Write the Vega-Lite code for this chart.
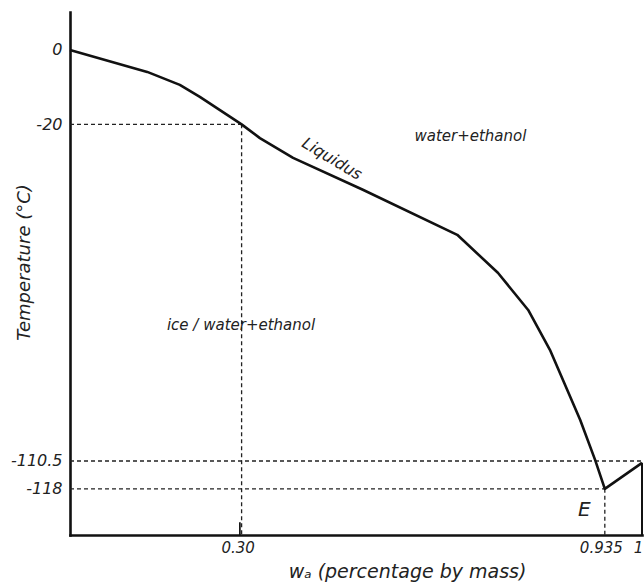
{
  "$schema": "https://vega.github.io/schema/vega-lite/v6.json",
  "autosize": {"type": "none"},
  "padding": {"left": 70, "top": 12, "right": 2, "bottom": 53},
  "width": 572,
  "height": 523,
  "background": "white",
  "config": {
    "view": {"stroke": null},
    "font": "DejaVu Sans",
    "text": {"font": "DejaVu Sans", "fontStyle": "italic", "color": "#222"}
  },
  "datasets": {
    "liquidus": [
      {"order": 1, "w": 0.0, "t": 0.0},
      {"order": 2, "w": 0.135, "t": -5.9},
      {"order": 3, "w": 0.192, "t": -9.4},
      {"order": 4, "w": 0.227, "t": -12.6},
      {"order": 5, "w": 0.30, "t": -20.0},
      {"order": 6, "w": 0.332, "t": -23.7},
      {"order": 7, "w": 0.39, "t": -29.0},
      {"order": 8, "w": 0.512, "t": -37.6},
      {"order": 9, "w": 0.677, "t": -49.7},
      {"order": 10, "w": 0.748, "t": -59.9},
      {"order": 11, "w": 0.801, "t": -69.9},
      {"order": 12, "w": 0.839, "t": -80.6},
      {"order": 13, "w": 0.892, "t": -99.5},
      {"order": 14, "w": 0.918, "t": -110.2},
      {"order": 15, "w": 0.935, "t": -118.0},
      {"order": 16, "w": 1.0, "t": -111.0}
    ],
    "guides": [
      {"w": 0, "w2": 0.30, "t": -20, "t2": -20},
      {"w": 0.30, "w2": 0.30, "t": -20, "t2": -130.4},
      {"w": 0, "w2": 1, "t": -110.5, "t2": -110.5},
      {"w": 0, "w2": 0.935, "t": -118, "t2": -118},
      {"w": 0.935, "w2": 0.935, "t": -118, "t2": -130.4}
    ],
    "regions": [
      {"label": "water+ethanol", "w": 0.70, "t": -23.1},
      {"label": "ice / water+ethanol", "w": 0.299, "t": -73.9}
    ]
  },
  "layer": [
    {
      "data": {"name": "guides"},
      "mark": {"type": "rule", "strokeDash": [4, 3], "strokeWidth": 1.3, "color": "#222"},
      "encoding": {
        "x": {
          "field": "w", "type": "quantitative",
          "scale": {"domain": [0, 1], "nice": false, "zero": false},
          "axis": {
            "values": [0.3, 0.935, 1],
            "labelExpr": "datum.value == 1 ? '1' : datum.value == 0.3 ? '0.30' : '0.935'",
            "ticks": false,
            "grid": false,
            "domainColor": "#111",
            "domainWidth": 2.6,
            "domainCap": "square",
            "labelFont": "DejaVu Sans",
            "labelFontStyle": "italic",
            "labelFontSize": 15,
            "labelColor": "#222",
            "labelPadding": 5,
            "labelOffset": -4,
            "labelOverlap": false,
            "labelFlush": false,
            "title": "wₐ (percentage by mass)",
            "titleFont": "DejaVu Sans",
            "titleFontStyle": "italic",
            "titleFontWeight": "normal",
            "titleFontSize": 19,
            "titleColor": "#222",
            "titleX": 337,
            "titleY": 42,
            "titleBaseline": "alphabetic"
          }
        },
        "x2": {"field": "w2"},
        "y": {
          "field": "t", "type": "quantitative",
          "scale": {"domain": [-130.4, 10.2], "nice": false, "zero": false},
          "axis": {
            "values": [0, -20, -110.5, -118],
            "labelExpr": "'' + datum.value",
            "ticks": false,
            "grid": false,
            "domainColor": "#111",
            "domainWidth": 2.6,
            "domainCap": "square",
            "labelFont": "DejaVu Sans",
            "labelFontStyle": "italic",
            "labelFontSize": 16,
            "labelColor": "#222",
            "labelPadding": 8,
            "labelOverlap": false,
            "labelFlush": false,
            "title": "Temperature (°C)",
            "titleFont": "DejaVu Sans",
            "titleFontStyle": "italic",
            "titleFontWeight": "normal",
            "titleFontSize": 18,
            "titleColor": "#222",
            "titleX": -41,
            "titleY": 250,
            "titleBaseline": "alphabetic"
          }
        },
        "y2": {"field": "t2"}
      }
    },
    {
      "data": {"values": [{"w": 1, "t": -111, "t2": -130.4}]},
      "mark": {"type": "rule", "strokeWidth": 2, "color": "#111"},
      "encoding": {
        "x": {"field": "w", "type": "quantitative"},
        "y": {"field": "t", "type": "quantitative"},
        "y2": {"field": "t2"}
      }
    },
    {
      "data": {"values": [{"w": 0.297, "t": -130.4, "t2": -127}]},
      "mark": {"type": "rule", "strokeWidth": 1.7, "color": "#111"},
      "encoding": {
        "x": {"field": "w", "type": "quantitative"},
        "y": {"field": "t", "type": "quantitative"},
        "y2": {"field": "t2"}
      }
    },
    {
      "data": {"name": "liquidus"},
      "mark": {"type": "line", "color": "#111", "strokeWidth": 2.6, "strokeJoin": "round"},
      "encoding": {
        "x": {"field": "w", "type": "quantitative"},
        "y": {"field": "t", "type": "quantitative"},
        "order": {"field": "order", "type": "quantitative"}
      }
    },
    {
      "data": {"name": "regions"},
      "mark": {"type": "text", "fontSize": 15, "align": "center", "baseline": "middle"},
      "encoding": {
        "x": {"field": "w", "type": "quantitative"},
        "y": {"field": "t", "type": "quantitative"},
        "text": {"field": "label"}
      }
    },
    {
      "data": {"values": [{"label": "Liquidus", "w": 0.458, "t": -29.3}]},
      "mark": {"type": "text", "fontSize": 16, "angle": 31, "align": "center", "baseline": "middle"},
      "encoding": {
        "x": {"field": "w", "type": "quantitative"},
        "y": {"field": "t", "type": "quantitative"},
        "text": {"field": "label"}
      }
    },
    {
      "data": {"values": [{"label": "E", "w": 0.899, "t": -123.7}]},
      "mark": {"type": "text", "fontSize": 20, "align": "center", "baseline": "middle"},
      "encoding": {
        "x": {"field": "w", "type": "quantitative"},
        "y": {"field": "t", "type": "quantitative"},
        "text": {"field": "label"}
      }
    }
  ]
}
